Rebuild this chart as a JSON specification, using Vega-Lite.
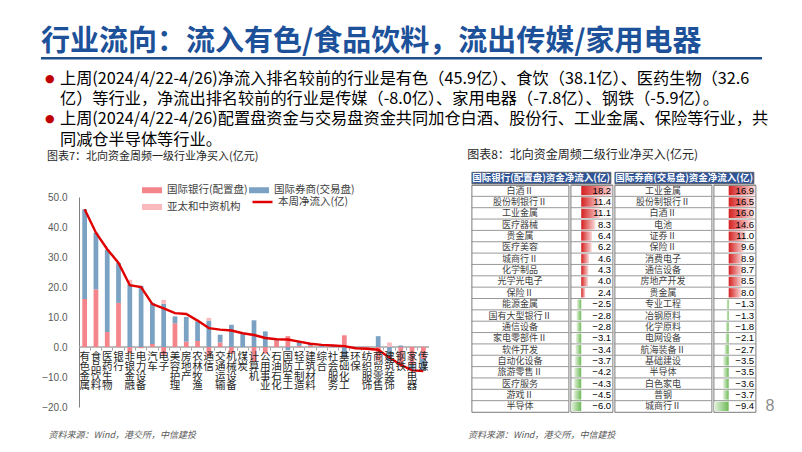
{
  "$schema": "https://vega.github.io/schema/vega-lite/v6.json",
  "padding": {"left": 41, "top": 28, "right": 0, "bottom": 0},
  "background": "white",
  "config": {
    "view": {"stroke": null},
    "font": "Noto Sans CJK SC",
    "title": {"fontWeight": "normal"},
    "concat": {"spacing": 0},
    "axis": {"labelOverlap": false, "labelBound": false}
  },
  "datasets": {
    "tL": [
      {"r": 1, "n": "白酒Ⅱ", "v": 18.2},
      {"r": 2, "n": "股份制银行Ⅱ", "v": 11.4},
      {"r": 3, "n": "工业金属", "v": 11.1},
      {"r": 4, "n": "医疗器械", "v": 8.3},
      {"r": 5, "n": "贵金属", "v": 6.4},
      {"r": 6, "n": "医疗美容", "v": 6.2},
      {"r": 7, "n": "城商行Ⅱ", "v": 4.6},
      {"r": 8, "n": "化学制品", "v": 4.3},
      {"r": 9, "n": "光学光电子", "v": 4.0},
      {"r": 10, "n": "保险Ⅱ", "v": 2.4},
      {"r": 11, "n": "能源金属", "v": -2.5},
      {"r": 12, "n": "国有大型银行Ⅱ", "v": -2.8},
      {"r": 13, "n": "通信设备", "v": -2.8},
      {"r": 14, "n": "家电零部件Ⅱ", "v": -3.1},
      {"r": 15, "n": "软件开发", "v": -3.4},
      {"r": 16, "n": "自动化设备", "v": -3.7},
      {"r": 17, "n": "旅游零售Ⅱ", "v": -4.2},
      {"r": 18, "n": "医疗服务", "v": -4.3},
      {"r": 19, "n": "游戏Ⅱ", "v": -4.5},
      {"r": 20, "n": "半导体", "v": -6.0}
    ],
    "tR": [
      {"r": 1, "n": "工业金属", "v": 16.9},
      {"r": 2, "n": "股份制银行Ⅱ", "v": 16.5},
      {"r": 3, "n": "白酒Ⅱ", "v": 16.0},
      {"r": 4, "n": "电池", "v": 14.6},
      {"r": 5, "n": "证券Ⅱ", "v": 11.0},
      {"r": 6, "n": "保险Ⅱ", "v": 9.6},
      {"r": 7, "n": "消费电子", "v": 8.9},
      {"r": 8, "n": "通信设备", "v": 8.7},
      {"r": 9, "n": "房地产开发", "v": 8.5},
      {"r": 10, "n": "贵金属", "v": 8.0},
      {"r": 11, "n": "专业工程", "v": -1.3},
      {"r": 12, "n": "冶钢原料", "v": -1.3},
      {"r": 13, "n": "化学原料", "v": -1.8},
      {"r": 14, "n": "电网设备", "v": -2.1},
      {"r": 15, "n": "航海装备Ⅱ", "v": -2.7},
      {"r": 16, "n": "基础建设", "v": -3.5},
      {"r": 17, "n": "半导体", "v": -3.5},
      {"r": 18, "n": "白色家电", "v": -3.6},
      {"r": 19, "n": "普钢", "v": -3.7},
      {"r": 20, "n": "城商行Ⅱ", "v": -9.4}
    ]
  },
  "spacing": 0,
  "resolve": {"scale": {"color": "independent", "stroke": "independent"}, "legend": {"color": "independent", "stroke": "independent"}},
  "vconcat": [
    {
      "width": 721,
      "height": 2.5,
      "title": {"text": "行业流向：流入有色/食品饮料，流出传媒/家用电器", "anchor": "start", "frame": "bounds", "fontSize": 29, "fontWeight": "bold", "color": "#1d5199", "offset": 0},
      "data": {"values": [{}]},
      "mark": {"type": "rect", "color": "#1f4e8c"},
      "encoding": {}
    },
    {
      "spacing": 0,
      "hconcat": [
        {
          "width": 15,
          "height": 88.1,
          "data": {"values": []},
          "mark": "point",
          "title": {"text": ["●", "​", "●", "​"], "orient": "bottom", "anchor": "start", "frame": "bounds", "font": "DejaVu Sans", "fontSize": 11, "lineHeight": 20.4, "color": "#c00000", "baseline": "top", "offset": -75.6, "dx": 4}
        },
        {
          "width": 710,
          "height": 88.1,
          "data": {"values": []},
          "mark": "point",
          "title": {
            "text": [
              "上周(2024/4/22-4/26)净流入排名较前的行业是有色（45.9亿）、食饮（38.1亿）、医药生物（32.6",
              "亿）等行业，净流出排名较前的行业是传媒（-8.0亿）、家用电器（-7.8亿）、钢铁（-5.9亿）。",
              "上周(2024/4/22-4/26)配置盘资金与交易盘资金共同加仓白酒、股份行、工业金属、保险等行业，共",
              "同减仓半导体等行业。"
            ],
            "orient": "bottom", "anchor": "start", "frame": "bounds", "fontSize": 16.2, "lineHeight": 20.4, "color": "#000000", "baseline": "top", "offset": -77.6, "dx": 4
          }
        }
      ]
    },
    {
      "spacing": 36.6,
      "resolve": {"scale": {"color": "independent", "stroke": "independent"}, "legend": {"color": "independent", "stroke": "independent"}},
      "hconcat": [
        {
          "title": {"text": "图表7：北向资金周频一级行业净买入(亿元)", "anchor": "start", "frame": "bounds", "fontSize": 11, "color": "#262626", "dx": 6, "offset": 10},
          "spacing": 0,
          "resolve": {"scale": {"color": "independent", "stroke": "independent"}, "legend": {"color": "independent", "stroke": "independent"}},
          "vconcat": [
            {"width": 388, "height": 6.4, "data": {"values": []}, "mark": "point"},
            {
              "width": 388,
              "height": 210,
              "resolve": {"axis": {"y": "independent"}},
              "data": {
                "values": [
                  {"cat": "有色金属", "lbl": "有\n色\n金\n属", "a_bank": 16.0, "b_broker": 29.9, "c_asia": 0, "net": 45.9},
                  {"cat": "食品饮料", "lbl": "食\n品\n饮\n料", "a_bank": 19.2, "b_broker": 18.9, "c_asia": 0, "net": 38.1},
                  {"cat": "医药生物", "lbl": "医\n药\n生\n物", "a_bank": 5.0, "b_broker": 27.4, "c_asia": 0.2, "net": 32.6},
                  {"cat": "银行", "lbl": "银\n行", "a_bank": 14.7, "b_broker": 13.3, "c_asia": 0, "net": 28.0},
                  {"cat": "非银金融", "lbl": "非\n银\n金\n融", "a_bank": -2.0, "b_broker": 20.9, "c_asia": 1.5, "net": 20.6},
                  {"cat": "电力设备", "lbl": "电\n力\n设\n备", "a_bank": -0.4, "b_broker": 20.4, "c_asia": 0, "net": 20.0},
                  {"cat": "汽车", "lbl": "汽\n车", "a_bank": 1.0, "b_broker": 13.7, "c_asia": 0, "net": 14.3},
                  {"cat": "电子", "lbl": "电\n子", "a_bank": -2.6, "b_broker": 14.4, "c_asia": 1.3, "net": 12.9},
                  {"cat": "美容护理", "lbl": "美\n容\n护\n理", "a_bank": 7.9, "b_broker": 2.3, "c_asia": 0, "net": 11.3},
                  {"cat": "房地产", "lbl": "房\n地\n产", "a_bank": 1.8, "b_broker": 8.2, "c_asia": 0, "net": 11.0},
                  {"cat": "农林牧渔", "lbl": "农\n林\n牧\n渔", "a_bank": 2.0, "b_broker": 6.5, "c_asia": 0, "net": 8.8},
                  {"cat": "通信", "lbl": "通\n信", "a_bank": -3.1, "b_broker": 8.8, "c_asia": 0.9, "net": 6.3},
                  {"cat": "交通运输", "lbl": "交\n通\n运\n输", "a_bank": 1.5, "b_broker": 2.6, "c_asia": 0, "net": 5.8},
                  {"cat": "机械设备", "lbl": "机\n械\n设\n备", "a_bank": -2.3, "b_broker": 7.4, "c_asia": 0, "net": 5.5},
                  {"cat": "煤炭", "lbl": "煤\n炭", "a_bank": 0, "b_broker": 4.3, "c_asia": 0, "net": 4.6},
                  {"cat": "计算机", "lbl": "计\n算\n机", "a_bank": -4.9, "b_broker": 8.9, "c_asia": 0, "net": 4.0},
                  {"cat": "公用事业", "lbl": "公\n用\n事\n业", "a_bank": -2.2, "b_broker": 5.2, "c_asia": 0, "net": 3.0},
                  {"cat": "石油石化", "lbl": "石\n油\n石\n化", "a_bank": 2.2, "b_broker": 0.4, "c_asia": 0, "net": 2.6},
                  {"cat": "国防军工", "lbl": "国\n防\n军\n工", "a_bank": 3.6, "b_broker": -1.1, "c_asia": 0, "net": 2.5},
                  {"cat": "轻工制造", "lbl": "轻\n工\n制\n造", "a_bank": 0.4, "b_broker": 1.3, "c_asia": 0, "net": 1.8},
                  {"cat": "建筑材料", "lbl": "建\n筑\n材\n料", "a_bank": 0.4, "b_broker": 0.6, "c_asia": 0, "net": 1.1},
                  {"cat": "综合", "lbl": "综\n合", "a_bank": 0, "b_broker": 0.3, "c_asia": 0, "net": 0.7},
                  {"cat": "社会服务", "lbl": "社\n会\n服\n务", "a_bank": 0, "b_broker": 0.3, "c_asia": 0, "net": 0.5},
                  {"cat": "基础化工", "lbl": "基\n础\n化\n工", "a_bank": 3.9, "b_broker": -3.5, "c_asia": 0, "net": 0.3},
                  {"cat": "环保", "lbl": "环\n保", "a_bank": 0, "b_broker": -0.4, "c_asia": 0, "net": -0.4},
                  {"cat": "纺织服饰", "lbl": "纺\n织\n服\n饰", "a_bank": -0.3, "b_broker": -0.3, "c_asia": 0, "net": -0.6},
                  {"cat": "商贸零售", "lbl": "商\n贸\n零\n售", "a_bank": -4.5, "b_broker": 3.6, "c_asia": 0, "net": -0.9},
                  {"cat": "建筑装饰", "lbl": "建\n筑\n装\n饰", "a_bank": 0, "b_broker": -4.8, "c_asia": 1.5, "net": -3.6},
                  {"cat": "钢铁", "lbl": "钢\n铁", "a_bank": -6.4, "b_broker": 0.5, "c_asia": 0, "net": -5.9},
                  {"cat": "家用电器", "lbl": "家\n用\n电\n器", "a_bank": -6.0, "b_broker": -1.8, "c_asia": 0, "net": -7.8},
                  {"cat": "传媒", "lbl": "传\n媒", "a_bank": -4.0, "b_broker": -4.0, "c_asia": 0, "net": -8.0}
                ]
              },
              "encoding": {
                "x": {
                  "field": "cat", "type": "nominal", "sort": null,
                  "scale": {"paddingInner": 0, "paddingOuter": 0, "range": [38, 388]},
                  "axis": {"orient": "bottom", "offset": -60, "title": null, "labels": false, "domain": false, "ticks": true, "tickSize": 3, "tickColor": "#a6a6a6", "bandPosition": 0, "grid": false}
                }
              },
              "layer": [
                {
                  "mark": {"type": "bar", "width": {"band": 1}, "fill": null, "stroke": "#a6a6a6", "strokeWidth": 1},
                  "encoding": {
                    "y": {"datum": 0, "scale": {"domain": [-20, 50], "nice": false}, "axis": {"orient": "left", "values": [-20, 0, 20, 40], "format": ".1f", "title": null, "grid": false, "labelOverlap": false, "offset": -38, "domainColor": "#808080", "ticks": false, "labelPadding": 12, "labelFont": "Liberation Sans", "labelFontSize": 10, "labelColor": "#595959"}},
                    "y2": {"datum": 0}
                  }
                },
                {
                  "transform": [{"fold": ["a_bank", "b_broker", "c_asia"], "as": ["k", "val"]}],
                  "mark": {"type": "bar", "width": {"band": 0.42}},
                  "encoding": {
                    "y": {
                      "field": "val", "type": "quantitative", "stack": "zero",
                      "scale": {"domain": [-20, 50], "nice": false},
                      "axis": {"orient": "left", "values": [-10, 10, 30, 50], "format": ".1f", "title": null, "grid": false, "labelOverlap": false, "offset": -38, "domain": false, "ticks": false, "labelPadding": 12, "labelFont": "Liberation Sans", "labelFontSize": 10, "labelColor": "#595959"}
                    },
                    "color": {
                      "field": "k", "type": "nominal",
                      "scale": {"domain": ["a_bank", "b_broker", "c_asia"], "range": ["#f4858a", "#7ba2c2", "#f9b9bd"]},
                      "legend": {
                        "title": null, "orient": "none", "legendX": 100, "legendY": -18, "direction": "horizontal", "columns": 2, "columnPadding": 0, "rowPadding": 0, "padding": 0,
                        "symbolType": "M-1,-0.3L1,-0.3L1,0.3L-1,0.3Z", "symbolSize": 400, "labelFontSize": 10.5, "labelColor": "#404040", "labelOffset": 4,
                        "labelExpr": "datum.label == 'a_bank' ? '国际银行(配置盘)' : datum.label == 'b_broker' ? '国际券商(交易盘)' : '亚太和中资机构'"
                      }
                    },
                    "order": {"field": "k", "sort": "ascending"}
                  }
                },
                {
                  "mark": {"type": "line", "strokeWidth": 2.4},
                  "encoding": {
                    "y": {"field": "net", "type": "quantitative", "axis": null},
                    "stroke": {
                      "datum": "本周净流入(亿)",
                      "scale": {"range": ["#e00000"]},
                      "legend": {"title": null, "orient": "none", "legendX": 210, "legendY": -6.5, "padding": 0, "symbolType": "stroke", "symbolSize": 400, "symbolStrokeWidth": 2.5, "labelFontSize": 10.5, "labelColor": "#404040", "labelOffset": 4}
                    }
                  }
                },
                {
                  "mark": {"type": "text", "baseline": "top", "dy": 5, "lineBreak": "\n", "lineHeight": 9.8, "fontSize": 10.5, "color": "#262626"},
                  "encoding": {"y": {"datum": 0, "axis": null}, "text": {"field": "lbl"}}
                }
              ]
            }
          ]
        },
        {
          "title": {"text": "图表8：北向资金周频二级行业净买入(亿元)", "anchor": "start", "frame": "bounds", "fontSize": 12, "color": "#262626", "dx": -3.6, "offset": 9.5},
          "spacing": 0,
          "hconcat": [
            {
              "spacing": 0,
              "vconcat": [
                {
                  "width": 139, "height": 11.4,
                  "view": {"fill": "#2F5597", "stroke": "#595959", "strokeWidth": 0.8},
                  "data": {"values": [{"h": "国际银行(配置盘)资金净流入(亿)"}]},
                  "mark": {"type": "text", "color": "white", "fontSize": 9.5, "fontWeight": "bold"},
                  "encoding": {"text": {"field": "h"}}
                },
                {
                  "spacing": 0,
                  "hconcat": [
                    {
                      "width": 97, "height": 227,
                      "view": {"stroke": "#595959", "strokeWidth": 0.8},
                      "data": {"name": "tL"},
                      "layer": [
                        {"mark": {"type": "rule", "color": "#7f7f7f", "strokeWidth": 0.8}, "encoding": {"y": {"field": "r", "type": "ordinal", "bandPosition": 0, "scale": {"type": "band", "paddingInner": 0, "paddingOuter": 0}, "axis": null}}},
                        {"mark": {"type": "text", "fontSize": 9, "color": "#404040"}, "encoding": {"y": {"field": "r", "type": "ordinal", "scale": {"type": "band", "paddingInner": 0, "paddingOuter": 0}, "axis": null}, "text": {"field": "n"}}}
                      ]
                    },
                    {
                      "width": 42, "height": 227,
                      "view": {"stroke": "#595959", "strokeWidth": 0.8},
                      "data": {"name": "tL"},
                      "layer": [
                        {"mark": {"type": "rule", "color": "#7f7f7f", "strokeWidth": 0.8}, "encoding": {"y": {"field": "r", "type": "ordinal", "bandPosition": 0, "scale": {"type": "band", "paddingInner": 0, "paddingOuter": 0}, "axis": null}}},
                        {
                          "transform": [{"filter": "datum.v > 0"}],
                          "mark": {"type": "bar", "height": {"band": 0.82}, "color": {"gradient": "linear", "x1": 0, "x2": 1, "y1": 0, "y2": 0, "stops": [{"offset": 0, "color": "#d42020"}, {"offset": 1, "color": "#fbd9d9"}]}},
                          "encoding": {
                            "y": {"field": "r", "type": "ordinal", "scale": {"type": "band", "paddingInner": 0, "paddingOuter": 0}, "axis": null},
                            "x": {"field": "v", "type": "quantitative", "scale": {"domain": [-6.3, 18.6], "nice": false, "zero": false}, "axis": null},
                            "x2": {"datum": 0}
                          }
                        },
                        {
                          "transform": [{"filter": "datum.v < 0"}],
                          "mark": {"type": "bar", "height": {"band": 0.82}, "color": {"gradient": "linear", "x1": 0, "x2": 1, "y1": 0, "y2": 0, "stops": [{"offset": 0, "color": "#e6f3df"}, {"offset": 1, "color": "#6dba57"}]}},
                          "encoding": {
                            "y": {"field": "r", "type": "ordinal", "scale": {"type": "band", "paddingInner": 0, "paddingOuter": 0}, "axis": null},
                            "x": {"field": "v", "type": "quantitative"},
                            "x2": {"datum": 0}
                          }
                        },
                        {
                          "mark": {"type": "text", "align": "right", "dx": -1.5, "fontSize": 9.5, "font": "Liberation Sans", "color": "#000000"},
                          "encoding": {
                            "y": {"field": "r", "type": "ordinal", "scale": {"type": "band", "paddingInner": 0, "paddingOuter": 0}, "axis": null},
                            "x": {"datum": 18.6},
                            "text": {"field": "v", "format": ".1f"}
                          }
                        }
                      ]
                    }
                  ]
                }
              ]
            },
            {
              "spacing": 0,
              "vconcat": [
                {
                  "width": 139, "height": 11.4,
                  "view": {"fill": "#2F5597", "stroke": "#595959", "strokeWidth": 0.8},
                  "data": {"values": [{"h": "国际券商(交易盘)资金净流入(亿)"}]},
                  "mark": {"type": "text", "color": "white", "fontSize": 9.5, "fontWeight": "bold"},
                  "encoding": {"text": {"field": "h"}}
                },
                {
                  "spacing": 0,
                  "hconcat": [
                    {
                      "width": 97, "height": 227,
                      "view": {"stroke": "#595959", "strokeWidth": 0.8},
                      "data": {"name": "tR"},
                      "layer": [
                        {"mark": {"type": "rule", "color": "#7f7f7f", "strokeWidth": 0.8}, "encoding": {"y": {"field": "r", "type": "ordinal", "bandPosition": 0, "scale": {"type": "band", "paddingInner": 0, "paddingOuter": 0}, "axis": null}}},
                        {"mark": {"type": "text", "fontSize": 9, "color": "#404040"}, "encoding": {"y": {"field": "r", "type": "ordinal", "scale": {"type": "band", "paddingInner": 0, "paddingOuter": 0}, "axis": null}, "text": {"field": "n"}}}
                      ]
                    },
                    {
                      "width": 42, "height": 227,
                      "view": {"stroke": "#595959", "strokeWidth": 0.8},
                      "data": {"name": "tR"},
                      "layer": [
                        {"mark": {"type": "rule", "color": "#7f7f7f", "strokeWidth": 0.8}, "encoding": {"y": {"field": "r", "type": "ordinal", "bandPosition": 0, "scale": {"type": "band", "paddingInner": 0, "paddingOuter": 0}, "axis": null}}},
                        {
                          "transform": [{"filter": "datum.v > 0"}],
                          "mark": {"type": "bar", "height": {"band": 0.82}, "color": {"gradient": "linear", "x1": 0, "x2": 1, "y1": 0, "y2": 0, "stops": [{"offset": 0, "color": "#d42020"}, {"offset": 1, "color": "#fbd9d9"}]}},
                          "encoding": {
                            "y": {"field": "r", "type": "ordinal", "scale": {"type": "band", "paddingInner": 0, "paddingOuter": 0}, "axis": null},
                            "x": {"field": "v", "type": "quantitative", "scale": {"domain": [-9.7, 17.3], "nice": false, "zero": false}, "axis": null},
                            "x2": {"datum": 0}
                          }
                        },
                        {
                          "transform": [{"filter": "datum.v < 0"}],
                          "mark": {"type": "bar", "height": {"band": 0.82}, "color": {"gradient": "linear", "x1": 0, "x2": 1, "y1": 0, "y2": 0, "stops": [{"offset": 0, "color": "#e6f3df"}, {"offset": 1, "color": "#6dba57"}]}},
                          "encoding": {
                            "y": {"field": "r", "type": "ordinal", "scale": {"type": "band", "paddingInner": 0, "paddingOuter": 0}, "axis": null},
                            "x": {"field": "v", "type": "quantitative"},
                            "x2": {"datum": 0}
                          }
                        },
                        {
                          "mark": {"type": "text", "align": "right", "dx": -1.5, "fontSize": 9.5, "font": "Liberation Sans", "color": "#000000"},
                          "encoding": {
                            "y": {"field": "r", "type": "ordinal", "scale": {"type": "band", "paddingInner": 0, "paddingOuter": 0}, "axis": null},
                            "x": {"datum": 17.3},
                            "text": {"field": "v", "format": ".1f"}
                          }
                        }
                      ]
                    }
                  ]
                }
              ]
            },
            {
              "width": 1, "height": 226,
              "data": {"values": [{}]},
              "mark": {"type": "rect", "opacity": 0},
              "encoding": {},
              "title": {"text": "8", "orient": "bottom", "anchor": "start", "frame": "bounds", "fontSize": 16, "font": "Liberation Sans", "color": "#8c8c8c", "baseline": "top", "offset": 0, "dx": 9}
            }
          ]
        }
      ]
    },
    {
      "spacing": 0,
      "hconcat": [
        {
          "width": 425, "height": 1,
          "data": {"values": [{}]},
          "mark": {"type": "rect", "opacity": 0},
          "encoding": {},
          "title": {"text": "资料来源：Wind，港交所，中信建投", "orient": "bottom", "anchor": "start", "frame": "bounds", "fontSize": 9, "fontStyle": "italic", "color": "#595959", "baseline": "top", "offset": 16, "dx": 7.6}
        },
        {
          "width": 300, "height": 1,
          "data": {"values": [{}]},
          "mark": {"type": "rect", "opacity": 0},
          "encoding": {},
          "title": {"text": "资料来源：Wind，港交所，中信建投", "orient": "bottom", "anchor": "start", "frame": "bounds", "fontSize": 9, "fontStyle": "italic", "color": "#595959", "baseline": "top", "offset": 16, "dx": 2}
        }
      ]
    }
  ]
}
